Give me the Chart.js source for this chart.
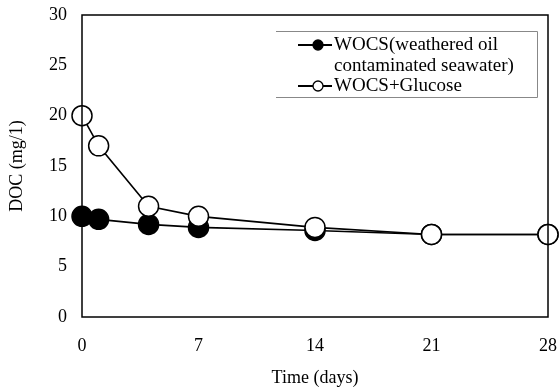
<!DOCTYPE html>
<html>
<head>
<meta charset="utf-8">
<script src="https://cdn.jsdelivr.net/npm/chart.js@4"></script>
<style>
  html, body { margin: 0; padding: 0; background: #fff; }
  #wrap { width: 560px; height: 389px; position: relative; }
</style>
</head>
<body>
<div id="wrap"><canvas id="docChart"></canvas></div>
<script>
// 采样时间（天）与 DOC 浓度 (mg/l)
const days = [0, 1, 4, 7, 14, 21, 28];
const wocs = [10, 9.7, 9.2, 8.9, 8.6, 8.2, 8.2];
const wocsGlucose = [20, 17, 11, 10, 8.9, 8.2, 8.2];
const xTicks = [0, 7, 14, 21, 28];
const yTicks = [0, 5, 10, 15, 20, 25, 30];
const legendLabels = [
  ['WOCS(weathered oil', 'contaminated seawater)'],
  ['WOCS+Glucose']
];

const serif = '"Liberation Serif", "DejaVu Serif", serif';

function toPoints(ys) {
  return days.map((d, i) => ({ x: d, y: ys[i] }));
}

// 外框 + 图例
const framePlugin = {
  id: 'frame',
  afterDraw(chart) {
    const { ctx, chartArea: a } = chart;
    ctx.save();
    ctx.strokeStyle = '#000';
    ctx.lineWidth = 1.5;
    ctx.strokeRect(a.left, a.top, a.right - a.left, a.bottom - a.top);

    // 图例框（左边不画线）
    ctx.strokeStyle = '#888';
    ctx.lineWidth = 1;
    ctx.beginPath();
    ctx.moveTo(276, 31.5);
    ctx.lineTo(537.5, 31.5);
    ctx.lineTo(537.5, 97.5);
    ctx.lineTo(276, 97.5);
    ctx.stroke();

    const rows = [
      { y: 45, fill: '#000', lines: legendLabels[0] },
      { y: 86, fill: '#fff', lines: legendLabels[1] }
    ];
    ctx.font = '19px ' + serif;
    ctx.textBaseline = 'middle';
    ctx.textAlign = 'left';
    rows.forEach(r => {
      ctx.strokeStyle = '#000';
      ctx.lineWidth = 1.8;
      ctx.beginPath();
      ctx.moveTo(298, r.y);
      ctx.lineTo(332, r.y);
      ctx.stroke();
      ctx.beginPath();
      ctx.arc(318, r.y, 5, 0, Math.PI * 2);
      ctx.fillStyle = r.fill;
      ctx.fill();
      ctx.lineWidth = 1.3;
      ctx.stroke();
      ctx.fillStyle = '#000';
      r.lines.forEach((t, k) => ctx.fillText(t, 334, r.y + k * 21));
    });
    ctx.restore();
  }
};

const ctx = document.getElementById('docChart').getContext('2d');

new Chart(ctx, {
  type: 'line',
  data: {
    datasets: [
      {
        label: 'WOCS(weathered oil contaminated seawater)',
        data: toPoints(wocs),
        borderColor: '#000',
        backgroundColor: '#000',
        borderWidth: 1.6,
        pointRadius: 10,
        pointBorderWidth: 1.5,
        pointBorderColor: '#000',
        pointBackgroundColor: '#000',
        tension: 0,
        clip: false,
        order: 2
      },
      {
        label: 'WOCS+Glucose',
        data: toPoints(wocsGlucose),
        borderColor: '#000',
        backgroundColor: '#fff',
        borderWidth: 1.6,
        pointRadius: 10,
        pointBorderWidth: 1.5,
        pointBorderColor: '#000',
        pointBackgroundColor: '#fff',
        tension: 0,
        clip: false,
        order: 1
      }
    ]
  },
  options: {
    responsive: true,
    maintainAspectRatio: false,
    animation: false,
    layout: {
      autoPadding: false,
      padding: { top: 15, right: 12, left: 0, bottom: 0 }
    },
    plugins: {
      legend: { display: false },
      tooltip: { enabled: false }
    },
    scales: {
      x: {
        type: 'linear',
        min: 0,
        max: 28,
        afterBuildTicks: scale => { scale.ticks = xTicks.map(v => ({ value: v })); },
        afterFit: scale => {
          scale.height = 72;
          scale.paddingLeft = 0;
          scale.paddingRight = 0;
        },
        grid: { display: false, drawTicks: false },
        border: { display: false },
        ticks: {
          color: '#000',
          padding: 18,
          font: { family: serif, size: 18 }
        },
        title: {
          display: true,
          text: 'Time (days)',
          color: '#000',
          padding: { top: 6, bottom: 0 },
          font: { family: serif, size: 18 }
        }
      },
      y: {
        min: 0,
        max: 30,
        afterBuildTicks: scale => { scale.ticks = yTicks.map(v => ({ value: v })); },
        afterFit: scale => {
          scale.width = 82;
          scale.paddingTop = 0;
          scale.paddingBottom = 0;
        },
        grid: { display: false, drawTicks: false },
        border: { display: false },
        ticks: {
          color: '#000',
          padding: 15,
          font: { family: serif, size: 18 }
        },
        title: {
          display: true,
          text: 'DOC (mg/1)',
          color: '#000',
          padding: { top: 6, bottom: 0 },
          font: { family: serif, size: 18 }
        }
      }
    }
  },
  plugins: [framePlugin]
});
</script>
</body>
</html>
